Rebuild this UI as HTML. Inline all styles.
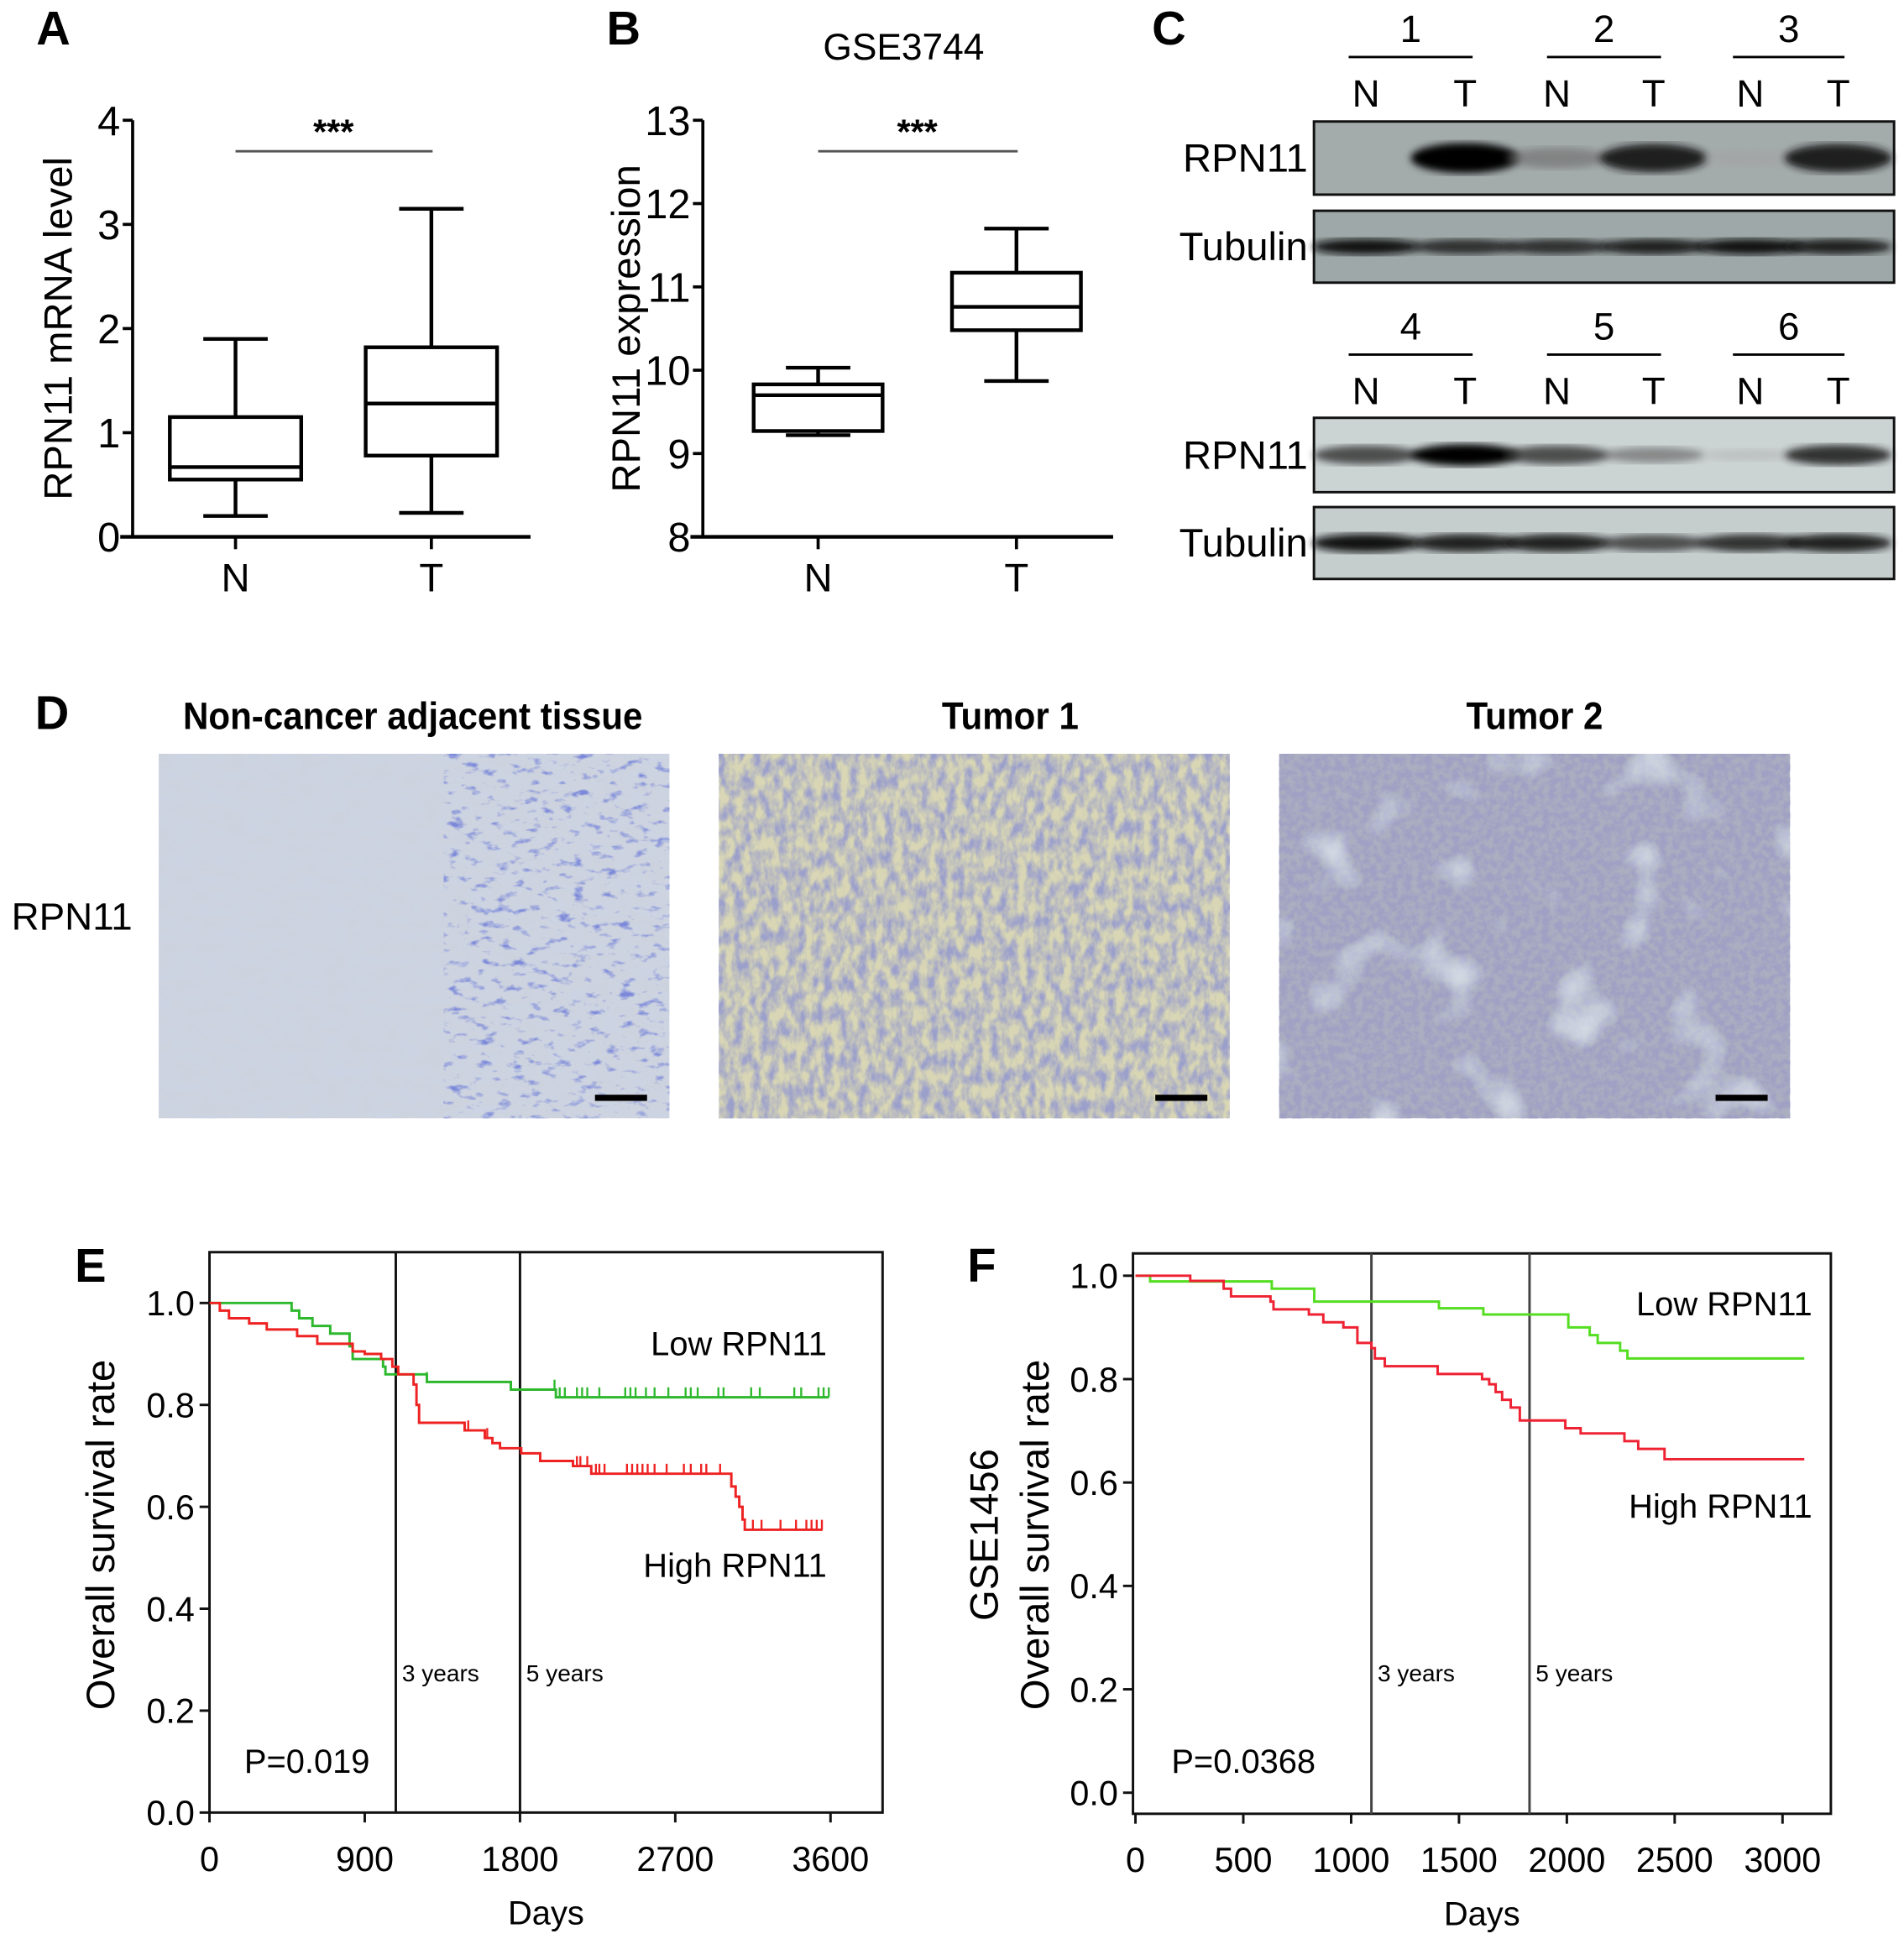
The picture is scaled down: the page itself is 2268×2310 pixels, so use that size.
<!DOCTYPE html>
<html><head><meta charset="utf-8"><style>
html,body{margin:0;padding:0;background:#fff;}
svg{display:block;font-family:"Liberation Sans",Arial,sans-serif;}
</style></head><body>
<svg id="fig" width="2268" height="2310" viewBox="0 0 1536 1564" preserveAspectRatio="none" xmlns="http://www.w3.org/2000/svg">
<defs>
<filter id="tex1" x="0" y="0" width="100%" height="100%"><feTurbulence type="fractalNoise" baseFrequency="0.08 0.16" numOctaves="3" seed="3"/><feColorMatrix type="matrix" values="0 0 0 0 0.2  0 0 0 0 0.25  0 0 0 0 0.7  0 0 0 4 -2.3"/></filter>
<filter id="tex1b" x="0" y="0" width="100%" height="100%"><feTurbulence type="fractalNoise" baseFrequency="0.05 0.1" numOctaves="3" seed="9"/><feColorMatrix type="matrix" values="0 0 0 0 0.6  0 0 0 0 0.65  0 0 0 0 0.78  0 0 0 1.5 -0.5"/></filter>
<filter id="tex2" x="0" y="0" width="100%" height="100%"><feTurbulence type="fractalNoise" baseFrequency="0.14 0.08" numOctaves="3" seed="7"/><feColorMatrix type="matrix" values="0 0 0 0 0.33  0 0 0 0 0.35  0 0 0 0 0.6  0 0 0 2.2 -0.7"/></filter>
<filter id="tex3" x="0" y="0" width="100%" height="100%"><feTurbulence type="fractalNoise" baseFrequency="0.18" numOctaves="3" seed="11"/><feColorMatrix type="matrix" values="0 0 0 0 0.35  0 0 0 0 0.35  0 0 0 0 0.55  0 0 0 3 -1.0"/></filter>
<filter id="tex3b" x="0" y="0" width="100%" height="100%"><feTurbulence type="fractalNoise" baseFrequency="0.02" numOctaves="2" seed="5"/><feColorMatrix type="matrix" values="0 0 0 0 0.78  0 0 0 0 0.85  0 0 0 0 0.88  0 0 0 3 -1.75"/></filter>
<filter id="blur2"><feGaussianBlur stdDeviation="3"/></filter>
</defs>
<g id="root"></g>
</svg>
<script>
// ---------- data ----------
const boxCatsA = ['N','T'];
const boxA = [{lo:0.2,q1:0.55,med:0.67,q3:1.15,hi:1.9},{lo:0.23,q1:0.78,med:1.28,q3:1.82,hi:3.15}];
const boxTicksA = [0,1,2,3,4];
const boxB = [{lo:9.22,q1:9.27,med:9.7,q3:9.83,hi:10.03},{lo:9.87,q1:10.48,med:10.76,q3:11.17,hi:11.7}];
const boxTicksB = [8,9,10,11,12,13];
const blotTopRPN = [0.05,1.0,0.45,0.9,0.2,0.9];
const blotTopTub = [0.95,0.85,0.85,0.9,0.95,0.9];
const blotBotRPN = [0.75,1.0,0.75,0.5,0.15,0.85];
const blotBotTub = [0.95,0.9,0.9,0.75,0.85,0.9];
const kmTicksE = [0,900,1800,2700,3600];
const kmYTicks = [0,0.2,0.4,0.6,0.8,1.0];
const lowE_t = [0,476,520,597,700,812,830,1006,1020,1260,1747,2008,3590];
const lowE_s = [1,0.985,0.97,0.955,0.94,0.915,0.89,0.875,0.86,0.845,0.83,0.815,0.815];
const highE_t = [0,60,113,230,332,508,625,830,900,995,1060,1094,1183,1200,1215,1479,1596,1640,1684,1807,1917,2107,2213,3025,3050,3071,3090,3103,3554];
const highE_s = [1,0.985,0.97,0.96,0.948,0.935,0.92,0.905,0.9,0.89,0.875,0.86,0.84,0.8,0.765,0.75,0.735,0.725,0.715,0.705,0.69,0.68,0.665,0.64,0.62,0.6,0.575,0.555,0.555];
const lowE_cens = [1260,2000,2030,2060,2130,2160,2190,2260,2410,2440,2470,2530,2580,2660,2760,2790,2830,2950,2980,3140,3190,3390,3430,3530,3560,3590];
const highE_cens = [1200,1500,1610,2130,2150,2190,2240,2260,2290,2420,2450,2480,2510,2540,2580,2650,2750,2790,2850,2880,2960,3150,3200,3310,3400,3460,3490,3520,3550];
const kmTicksF = [0,500,1000,1500,2000,2500,3000];
const lowF_t = [0,68,632,829,1407,1613,2007,2106,2143,2247,2281,3101];
const lowF_s = [1,0.989,0.975,0.95,0.937,0.925,0.9,0.885,0.87,0.855,0.84,0.84];
const highF_t = [0,254,409,443,626,640,804,871,964,1029,1094,1110,1156,1401,1607,1640,1670,1700,1740,1782,1993,2064,2267,2331,2453,3101];
const highF_s = [1,0.99,0.975,0.96,0.95,0.935,0.925,0.91,0.9,0.87,0.86,0.84,0.825,0.81,0.8,0.79,0.775,0.76,0.745,0.72,0.705,0.695,0.68,0.665,0.645,0.645];

// ---------- helpers ----------
const NS='http://www.w3.org/2000/svg';
const root=document.getElementById('root');
function el(tag,attrs,parent,text){const e=document.createElementNS(NS,tag);for(const k in attrs)e.setAttribute(k,attrs[k]);if(text!==undefined)e.textContent=text;(parent||root).appendChild(e);return e;}
function txt(x,y,s,size,opts,parent){opts=opts||{};const t=el('text',{x:x,y:y,'font-size':size,'text-anchor':opts.anchor||'middle','font-weight':opts.bold?'bold':'normal',fill:'#000'},parent,s);if(opts.rot)t.setAttribute('transform','rotate(-90 '+x+' '+y+')');if(opts.sx)t.setAttribute('transform','translate('+x+' '+y+') scale('+opts.sx+' 1) translate('+(-x)+' '+(-y)+')');return t;}

// Panel letters
[['A',43,36],['B',503,36],['C',943,36],['D',42,588],['E',73,1034],['F',792,1034]].forEach(p=>{const t=txt(p[1],p[2],p[0],38,{bold:true});});

// ---------- box plots ----------
function boxPanel(name,ax,data,ticks,ytitle,ymin,ymax){
  const g=el('g',{},root);
  
  
  const x0=ax.x0,x1=ax.x1,yTop=97,yBot=433;
  const Y=v=>yBot-(v-ymin)/(ymax-ymin)*(yBot-yTop);
  const X=i=>ax.c[i];
  el('line',{x1:x0,y1:yTop,x2:x0,y2:yBot,stroke:'#000','stroke-width':2.5},g);
  el('line',{x1:x0-10,y1:yBot,x2:x1,y2:yBot,stroke:'#000','stroke-width':3},g);
  ticks.forEach(v=>{el('line',{x1:x0-8,y1:Y(v),x2:x0,y2:Y(v),stroke:'#000','stroke-width':2.5},g);const t=txt(x0-10,Y(v)+12,String(v),33,{anchor:'end'},g);});
  boxCatsA.forEach((c,i)=>{el('line',{x1:X(i),y1:yBot,x2:X(i),y2:yBot+10,stroke:'#000','stroke-width':2.5},g);const t=txt(X(i),yBot+44,c,32,{},g);});
  data.forEach((d,i)=>{
    const bg=el('g',{},g);
    
    
    const cx=X(i),hw=ax.hw,cw=26,s={stroke:'#000','stroke-width':3,fill:'none'};
    el('line',Object.assign({x1:cx,y1:Y(d.hi),x2:cx,y2:Y(d.q3)},s),bg);
    el('line',Object.assign({x1:cx,y1:Y(d.lo),x2:cx,y2:Y(d.q1)},s),bg);
    el('line',Object.assign({x1:cx-cw,y1:Y(d.hi),x2:cx+cw,y2:Y(d.hi)},s),bg);
    el('line',Object.assign({x1:cx-cw,y1:Y(d.lo),x2:cx+cw,y2:Y(d.lo)},s),bg);
    el('rect',Object.assign({x:cx-hw,y:Y(d.q3),width:2*hw,height:Y(d.q1)-Y(d.q3)},s),bg);
    el('line',Object.assign({x1:cx-hw,y1:Y(d.med),x2:cx+hw,y2:Y(d.med)},s),bg);
  });
  el('line',{x1:X(0),y1:122,x2:X(1)+1,y2:122,stroke:'#555','stroke-width':2},g);
  const st=txt((X(0)+X(1))/2,116,'***',28,{bold:true},g);
  const yt=txt(ax.tx,265,ytitle,32,{rot:true},g);
}
boxPanel('boxplot-a',{x0:107,x1:428,c:[190,348],hw:53,tx:58},boxA,boxTicksA,'RPN11 mRNA level',0,4);
boxPanel('boxplot-b',{x0:567,x1:898,c:[660,820],hw:52,tx:516},boxB,boxTicksB,'RPN11 expression',8,13);
{const t=txt(729,48,'GSE3744',30);}

// ---------- western blots ----------
const laneX=[1102,1182,1256,1334,1412,1483];
function blot(y,h,bg,vals,bandH,label,name){
  const g=el('g',{},root);
  
  
  el('rect',{x:1060,y:y,width:468,height:h,fill:bg,stroke:'#111','stroke-width':2},g);
  vals.forEach((v,i)=>{if(v<0.08)return;const gray=Math.round(200-v*195);el('ellipse',{cx:laneX[i],cy:y+h/2,rx:38+v*6,ry:bandH*(0.5+v*0.6),fill:'rgb('+gray+','+gray+','+gray+')',opacity:0.35+v*0.65,filter:'url(#blur2)'},g);});
  const t=txt(1055,y+h/2+11,label,32,{anchor:'end'},g);
}
function blotHeader(y,nums){
  const groups=[[1088,1188],[1248,1340],[1398,1488]];
  groups.forEach((gp,i)=>{el('line',{x1:gp[0],y1:y+12,x2:gp[1],y2:y+12,stroke:'#000','stroke-width':2});const t=txt((gp[0]+gp[1])/2,y,String(nums[i]),31);});
  laneX.forEach((x,i)=>{const t=txt(x,y+52,i%2?'T':'N',31);});
}
blotHeader(34,[1,2,3]);
blot(98,59,'#a4abab',blotTopRPN,11,'RPN11','blot-rpn11-top');
blot(170,58,'#9fa8a8',blotTopTub,6,'Tubulin','blot-tubulin-top');
blotHeader(274,[4,5,6]);
blot(337,60,'#ccd3d3',blotBotRPN,8,'RPN11','blot-rpn11-bottom');
blot(409,58,'#c6cdcd',blotBotTub,7,'Tubulin','blot-tubulin-bottom');

// ---------- IHC ----------
const ihc=[[128,'#cdd3de','tex1','Non-cancer adjacent tissue',333],[580,'#d8d6b4','tex2','Tumor 1',815],[1032,'#aaaec0','tex3','Tumor 2',1238]];
ihc.forEach((p,i)=>{
  const g=el('g',{},root);
  
  
  el('rect',{x:p[0],y:608,width:412,height:294,fill:p[1]},g);
  if(i===0){el('rect',{x:p[0],y:608,width:412,height:294,filter:'url(#tex1b)'},g);el('rect',{x:p[0]+230,y:608,width:182,height:294,filter:'url(#tex1)'},g);}
  else el('rect',{x:p[0],y:608,width:412,height:294,filter:'url(#'+p[2]+')'},g);
  if(i===2) el('rect',{x:p[0],y:608,width:412,height:294,filter:'url(#tex3b)'},g);
  el('rect',{x:p[0]+352,y:883,width:42,height:5,fill:'#000'},g);
  const t=txt(p[4],588,p[3],31,{bold:true,sx:0.92});
});
{const t=txt(58,750,'RPN11',31);}

// ---------- KM ----------
function km(name,fr,xmax,xticks,series,cens,vlines,ptext,ylabels,yearY,vcol){
  const g=el('g',{},root);
  
  
  const X=d=>fr.x0+d/xmax*(fr.x1-fr.x0);
  const Y=s=>fr.y0-s*(fr.y0-fr.y1);
  el('rect',{x:fr.left,y:fr.top,width:fr.right-fr.left,height:fr.bot-fr.top,fill:'none',stroke:'#111','stroke-width':2},g);
  kmYTicks.forEach(v=>{el('line',{x1:fr.left-8,y1:Y(v),x2:fr.left,y2:Y(v),stroke:'#111','stroke-width':2},g);const t=txt(fr.left-12,Y(v)+10,v.toFixed(1),28,{anchor:'end'},g);});
  xticks.forEach(v=>{el('line',{x1:X(v),y1:fr.bot,x2:X(v),y2:fr.bot+8,stroke:'#111','stroke-width':2},g);const t=txt(X(v),fr.bot+47,String(v),28,{},g);});
  vlines.forEach((d,i)=>{const l=el('line',{x1:X(d),y1:fr.top,x2:X(d),y2:fr.bot,stroke:vcol,'stroke-width':2},g);const t=txt(X(d)+5,yearY,i?'5 years':'3 years',19,{anchor:'start'},g);});
  series.forEach((s,k)=>{
    let d='M'+X(s.t[0])+' '+Y(s.s[0]);
    for(let i=1;i<s.t.length;i++){d+=' H'+X(s.t[i])+' V'+Y(s.s[i]);}
    const p=el('path',{d:d,fill:'none',stroke:s.c,'stroke-width':2},g);
    
    
    (cens[k]||[]).forEach(c=>{let sv=s.s[0];for(let i=0;i<s.t.length;i++){if(s.t[i]<=c)sv=s.s[i];}el('line',{x1:X(c),y1:Y(sv)-8,x2:X(c),y2:Y(sv),stroke:s.c,'stroke-width':1.6},g);});
  });
  const xt=txt((fr.left+fr.right)/2,fr.bot+90,'Days',27,{},g);
  ylabels.forEach(l=>{const t=txt(l[0],l[1],l[2],32,{rot:true},g);});
  const pt=txt(ptext[0],ptext[1],ptext[2],27,{anchor:'start'},g);
  [['Low RPN11',fr.lowY],['High RPN11',fr.highY]].forEach(l=>{const t=txt(fr.labelX,l[1],l[0],27,{anchor:'end'},g);});
}
km('km-plot-e',{x0:169,x1:670,y0:1462,y1:1051,left:169,right:712,top:1010,bot:1462,labelX:667,lowY:1093,highY:1272},3600,kmTicksE,
  [{t:lowE_t,s:lowE_s,c:'#2db82d',n:'low-rpn11-curve'},{t:highE_t,s:highE_s,c:'#ee2222',n:'high-rpn11-curve'}],
  [lowE_cens,highE_cens],[1080,1800],[197,1430,'P=0.019'],[[92,1238,'Overall survival rate']],1356,'#111');
km('km-plot-f',{x0:916,x1:1438,y0:1446,y1:1029,left:914,right:1477,top:1011,bot:1463,labelX:1462,lowY:1061,highY:1224},3000,kmTicksF,
  [{t:lowF_t,s:lowF_s,c:'#55dd22',n:'low-rpn11-curve'},{t:highF_t,s:highF_s,c:'#ee2233',n:'high-rpn11-curve'}],
  [[],[]],[1094,1827],[945,1430,'P=0.0368'],[[805,1238,'GSE1456'],[846,1238,'Overall survival rate']],1356,'#444');
</script>
</body></html>
